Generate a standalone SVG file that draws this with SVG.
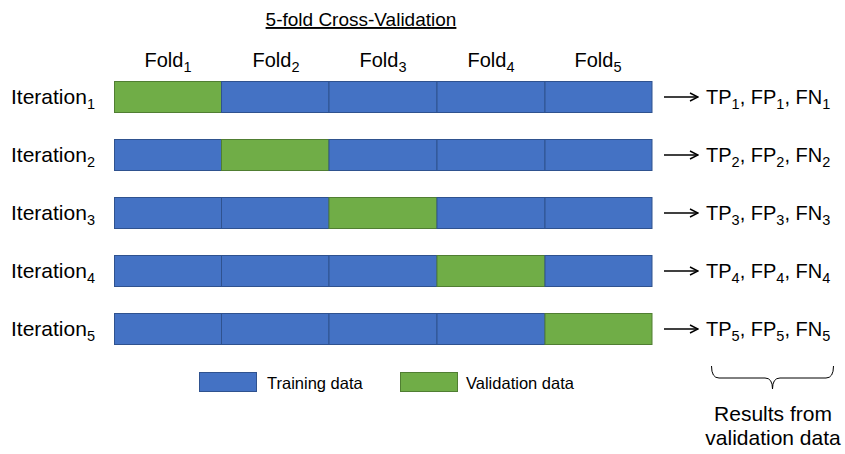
<svg xmlns="http://www.w3.org/2000/svg" width="845" height="454" viewBox="0 0 845 454">
  <defs>
    <style>
      text { font-family: "Liberation Sans", Arial, sans-serif; fill: #000; }
      .title { font-size: 19px; text-decoration: underline; }
      .fold { font-size: 20px; text-anchor: middle; }
      .iter { font-size: 21px; }
      .res { font-size: 20px; }
      .sub { font-size: 14.5px; }
      .legend { font-size: 16.5px; }
      .note { font-size: 21px; text-anchor: middle; }
      .train { fill: #4472C4; stroke: #2F528F; stroke-width: 1; }
      .valid { fill: #70AD47; stroke: #507E32; stroke-width: 1; }
      .arrow { stroke: #000; stroke-width: 1.5; fill: none; }
      .brace { stroke: #000; stroke-width: 1; fill: none; }
    </style>
    <marker id="head" viewBox="0 0 10 10" refX="9" refY="5" markerWidth="10" markerHeight="10" markerUnits="userSpaceOnUse" orient="auto">
      <path d="M1,1 L9,5 L1,9" fill="none" stroke="#000" stroke-width="1.4"/>
    </marker>
  </defs>

  <rect width="845" height="454" fill="#fff"/>

  <!-- heading -->
  <text class="title" x="361" y="26" text-anchor="middle">5-fold Cross-Validation</text>

  <!-- column headings -->
  <g id="fold-labels">
    <text class="fold" x="168" y="67">Fold<tspan class="sub" dy="5">1</tspan></text>
    <text class="fold" x="276" y="67">Fold<tspan class="sub" dy="5">2</tspan></text>
    <text class="fold" x="383" y="67">Fold<tspan class="sub" dy="5">3</tspan></text>
    <text class="fold" x="491" y="67">Fold<tspan class="sub" dy="5">4</tspan></text>
    <text class="fold" x="598" y="67">Fold<tspan class="sub" dy="5">5</tspan></text>
  </g>

  <!-- iteration 1 -->
  <g id="iteration-1">
    <text class="iter" x="11" y="104">Iteration<tspan class="sub" dy="5">1</tspan></text>
    <rect class="valid" x="114.5" y="81.5" width="107" height="31"/>
    <rect class="train" x="221.5" y="81.5" width="107.5" height="31"/>
    <rect class="train" x="329" y="81.5" width="108" height="31"/>
    <rect class="train" x="437" y="81.5" width="108" height="31"/>
    <rect class="train" x="545" y="81.5" width="107" height="31"/>
  </g>

  <!-- iteration 2 -->
  <g id="iteration-2">
    <text class="iter" x="11" y="162">Iteration<tspan class="sub" dy="5">2</tspan></text>
    <rect class="train" x="114.5" y="139.5" width="107" height="31"/>
    <rect class="valid" x="221.5" y="139.5" width="107.5" height="31"/>
    <rect class="train" x="329" y="139.5" width="108" height="31"/>
    <rect class="train" x="437" y="139.5" width="108" height="31"/>
    <rect class="train" x="545" y="139.5" width="107" height="31"/>
  </g>

  <!-- iteration 3 -->
  <g id="iteration-3">
    <text class="iter" x="11" y="220">Iteration<tspan class="sub" dy="5">3</tspan></text>
    <rect class="train" x="114.5" y="197.5" width="107" height="31"/>
    <rect class="train" x="221.5" y="197.5" width="107.5" height="31"/>
    <rect class="valid" x="329" y="197.5" width="108" height="31"/>
    <rect class="train" x="437" y="197.5" width="108" height="31"/>
    <rect class="train" x="545" y="197.5" width="107" height="31"/>
  </g>

  <!-- iteration 4 -->
  <g id="iteration-4">
    <text class="iter" x="11" y="278">Iteration<tspan class="sub" dy="5">4</tspan></text>
    <rect class="train" x="114.5" y="255.5" width="107" height="31"/>
    <rect class="train" x="221.5" y="255.5" width="107.5" height="31"/>
    <rect class="train" x="329" y="255.5" width="108" height="31"/>
    <rect class="valid" x="437" y="255.5" width="108" height="31"/>
    <rect class="train" x="545" y="255.5" width="107" height="31"/>
  </g>

  <!-- iteration 5 -->
  <g id="iteration-5">
    <text class="iter" x="11" y="336">Iteration<tspan class="sub" dy="5">5</tspan></text>
    <rect class="train" x="114.5" y="313.5" width="107" height="31"/>
    <rect class="train" x="221.5" y="313.5" width="107.5" height="31"/>
    <rect class="train" x="329" y="313.5" width="108" height="31"/>
    <rect class="train" x="437" y="313.5" width="108" height="31"/>
    <rect class="valid" x="545" y="313.5" width="107" height="31"/>
  </g>

  <!-- per-iteration results -->
  <g id="result-1"><text class="res" x="706" y="104">TP<tspan class="sub" dy="5">1</tspan><tspan dy="-5">, FP</tspan><tspan class="sub" dy="5">1</tspan><tspan dy="-5">, FN</tspan><tspan class="sub" dy="5">1</tspan></text></g>
  <g id="result-2"><text class="res" x="706" y="162">TP<tspan class="sub" dy="5">2</tspan><tspan dy="-5">, FP</tspan><tspan class="sub" dy="5">2</tspan><tspan dy="-5">, FN</tspan><tspan class="sub" dy="5">2</tspan></text></g>
  <g id="result-3"><text class="res" x="706" y="220">TP<tspan class="sub" dy="5">3</tspan><tspan dy="-5">, FP</tspan><tspan class="sub" dy="5">3</tspan><tspan dy="-5">, FN</tspan><tspan class="sub" dy="5">3</tspan></text></g>
  <g id="result-4"><text class="res" x="706" y="278">TP<tspan class="sub" dy="5">4</tspan><tspan dy="-5">, FP</tspan><tspan class="sub" dy="5">4</tspan><tspan dy="-5">, FN</tspan><tspan class="sub" dy="5">4</tspan></text></g>
  <g id="result-5"><text class="res" x="706" y="336">TP<tspan class="sub" dy="5">5</tspan><tspan dy="-5">, FP</tspan><tspan class="sub" dy="5">5</tspan><tspan dy="-5">, FN</tspan><tspan class="sub" dy="5">5</tspan></text></g>

  <!-- arrows from each iteration to its results -->
  <g id="connectors">
    <line class="arrow" x1="664" y1="97" x2="698" y2="97" marker-end="url(#head)"/>
    <line class="arrow" x1="664" y1="155" x2="698" y2="155" marker-end="url(#head)"/>
    <line class="arrow" x1="664" y1="213" x2="698" y2="213" marker-end="url(#head)"/>
    <line class="arrow" x1="664" y1="271" x2="698" y2="271" marker-end="url(#head)"/>
    <line class="arrow" x1="664" y1="329" x2="698" y2="329" marker-end="url(#head)"/>
  </g>

  <!-- legend -->
  <g id="legend">
    <rect class="train" x="199.5" y="372.5" width="57" height="19"/>
    <text class="legend" x="267" y="389">Training data</text>
    <rect class="valid" x="400.5" y="372.5" width="57" height="19"/>
    <text class="legend" x="466" y="389">Validation data</text>
  </g>

  <!-- brace grouping the results -->
  <g id="results-note">
    <path class="brace" d="M711.5,366 Q711.5,378 719,378 L765,378 Q772.5,378 772.5,389 Q772.5,378 780,378 L826,378 Q833.5,378 833.5,366"/>
    <text class="note" x="773" y="421">Results from</text>
    <text class="note" x="773" y="445">validation data</text>
  </g>
</svg>
